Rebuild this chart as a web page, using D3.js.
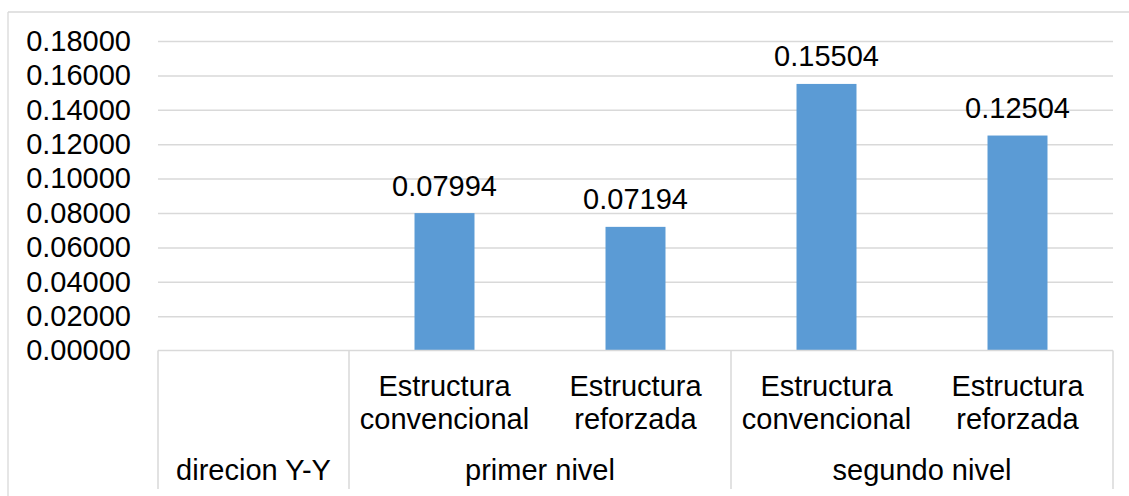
<!DOCTYPE html>
<html>
<head>
<meta charset="utf-8">
<script src="https://cdn.jsdelivr.net/npm/d3@7"></script>
<style>
  html, body { margin: 0; padding: 0; background: #fff; }
  svg { display: block; font-family: "Liberation Sans", Arial, sans-serif; }
</style>
</head>
<body>
<svg id="chart" width="1129" height="496"></svg>
<script>
// ---- data ----
const categories = ["", "Estructura convencional", "Estructura reforzada", "Estructura convencional", "Estructura reforzada"];
const values = [null, 0.07994, 0.07194, 0.15504, 0.12504];
const valueLabels = ["", "0.07994", "0.07194", "0.15504", "0.12504"];
const groupNames = ["direcion Y-Y", "primer nivel", "segundo nivel"];
const groupSpans = [1, 2, 2];
const yTicks = [0, 0.02, 0.04, 0.06, 0.08, 0.10, 0.12, 0.14, 0.16, 0.18];

// ---- layout ----
const W = 1129, H = 496;
const plot = { left: 158, right: 1113, top: 41, bottom: 350.6 };
const fontSize = 29;
const gridColor = "#d9d9d9";
const barColor = "#5b9bd5";

const svg = d3.select("#chart");

// chart border (extends beyond the crop on right/bottom)
svg.append("line").attr("x1", 8).attr("x2", W).attr("y1", 12).attr("y2", 12)
  .attr("stroke", gridColor).attr("stroke-width", 1.3);
svg.append("line").attr("x1", 8).attr("x2", 8).attr("y1", 12).attr("y2", H)
  .attr("stroke", gridColor).attr("stroke-width", 1.3);

const idx = d3.range(categories.length);
const x = d3.scaleBand().domain(idx).range([plot.left, plot.right]).padding(0);
const y = d3.scaleLinear().domain([0, 0.18]).range([plot.bottom, plot.top]);

// gridlines
const grid = svg.append("g").attr("transform", `translate(${plot.left},0)`)
  .call(d3.axisLeft(y).tickValues(yTicks.slice(1)).tickSize(-(plot.right - plot.left)).tickFormat(""));
grid.select(".domain").remove();
grid.selectAll("line").attr("stroke", gridColor).attr("stroke-width", 1.5);

// y axis labels
const yAxis = svg.append("g").attr("transform", `translate(${plot.left},0)`)
  .call(d3.axisLeft(y).tickValues(yTicks).tickSize(0).tickPadding(27).tickFormat(d3.format(".5f")));
yAxis.select(".domain").remove();
yAxis.selectAll("text").attr("font-size", fontSize).attr("fill", "#000")
  .attr("font-family", "Liberation Sans, Arial, sans-serif").attr("dy", "0.32em");

// bars
const barW = x.bandwidth() * 0.314;
svg.append("g").selectAll("rect")
  .data(idx.filter(i => values[i] != null))
  .join("rect")
  .attr("x", i => x(i) + x.bandwidth() / 2 - barW / 2)
  .attr("width", barW)
  .attr("y", i => y(values[i]))
  .attr("height", i => y(0) - y(values[i]))
  .attr("fill", barColor);

// value labels
svg.append("g").selectAll("text")
  .data(idx.filter(i => values[i] != null))
  .join("text")
  .attr("x", i => x(i) + x.bandwidth() / 2)
  .attr("y", i => y(values[i]) - 17.5)
  .attr("text-anchor", "middle")
  .attr("font-size", fontSize)
  .attr("fill", "#000")
  .text(i => valueLabels[i]);

// category axis line
svg.append("line").attr("x1", plot.left).attr("x2", plot.right)
  .attr("y1", y(0)).attr("y2", y(0)).attr("stroke", gridColor).attr("stroke-width", 1.5);

// group separators
const bounds = [0];
groupSpans.forEach(s => bounds.push(bounds[bounds.length - 1] + s));
svg.append("g").selectAll("line")
  .data(bounds)
  .join("line")
  .attr("x1", b => b < idx.length ? x(b) : plot.right)
  .attr("x2", b => b < idx.length ? x(b) : plot.right)
  .attr("y1", y(0)).attr("y2", 489)
  .attr("stroke", gridColor).attr("stroke-width", 1.5);

// category labels (two lines)
const catG = svg.append("g");
idx.forEach(i => {
  if (!categories[i]) return;
  const words = categories[i].split(" ");
  const t = catG.append("text")
    .attr("x", x(i) + x.bandwidth() / 2)
    .attr("y", 395.5)
    .attr("text-anchor", "middle")
    .attr("font-size", fontSize)
    .attr("fill", "#000");
  words.forEach((w, k) => {
    t.append("tspan").attr("x", x(i) + x.bandwidth() / 2).attr("dy", k === 0 ? 0 : 33).text(w);
  });
});

// group labels
svg.append("g").selectAll("text")
  .data(groupNames)
  .join("text")
  .attr("x", (g, k) => {
    const a = x(bounds[k]);
    const b = bounds[k + 1] < idx.length ? x(bounds[k + 1]) : plot.right;
    return (a + b) / 2;
  })
  .attr("y", 480)
  .attr("text-anchor", "middle")
  .attr("font-size", fontSize)
  .attr("fill", "#000")
  .text(d => d);
</script>
</body>
</html>
